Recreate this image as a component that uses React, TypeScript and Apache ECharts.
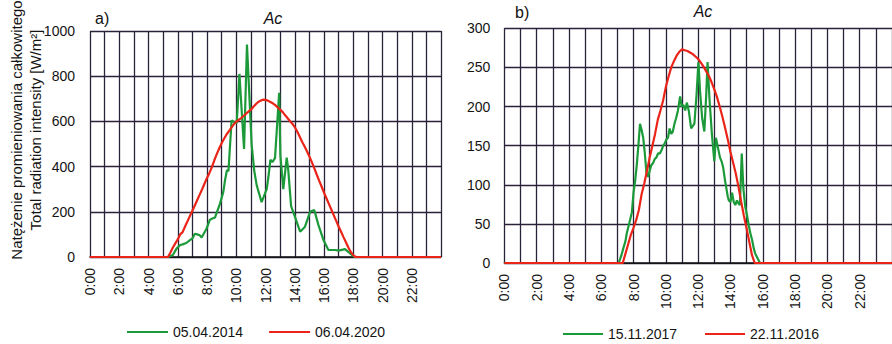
import React, { useEffect, useRef } from 'react';
import * as echarts from 'echarts';

// Panel a) Ac
const seriesA1Name = '05.04.2014';
const timesA1 = ['0:00','5:20','5:40','5:55','6:10','6:20','6:35','6:50','7:00','7:10','7:20','7:30','7:38','7:58','8:12','8:22','8:33','8:53','9:07','9:14','9:22','9:28','9:36','9:41','9:50','10:02','10:13','10:32','10:44','11:03','11:14','11:24','11:44','12:05','12:12','12:20','12:28','12:39','12:56','13:01','13:13','13:27','13:33','13:45','14:01','14:22','14:42','15:03','15:20','15:37','15:58','16:18','16:46','17:00','17:26','17:47','18:05','24:00'];
const valuesA1 = [0,0,9,37,53,56,62,75,82,103,100,96,86,125,165,170,175,235,288,340,385,380,520,605,598,592,810,478,940,500,380,317,243,300,355,430,420,437,727,450,300,440,390,225,178,112,134,200,208,142,75,31,31,28,35,16,0,0];

const seriesA2Name = '06.04.2020';
const timesA2 = ['0:00','5:20','5:30','5:40','5:50','6:00','6:10','6:20','6:30','6:40','6:50','7:00','7:10','7:20','7:30','7:40','7:50','8:00','8:10','8:20','8:30','8:40','8:50','9:00','9:10','9:20','9:30','9:40','9:50','10:00','10:10','10:20','10:30','10:40','10:50','11:00','11:10','11:20','11:30','11:40','11:50','12:00','12:10','12:20','12:30','12:40','12:50','13:00','13:10','13:20','13:30','13:40','13:50','14:00','14:10','14:20','14:30','14:40','14:50','15:00','15:10','15:20','15:30','15:40','15:50','16:00','16:10','16:20','16:30','16:40','16:50','17:00','17:10','17:20','17:30','17:40','17:50','18:00','18:10','24:00'];
const valuesA2 = [0,0,20,42,60,78,100,110,135,158,182,205,228,252,276,300,325,350,372,398,428,455,480,503,523,542,557,572,587,598,607,615,624,634,643,652,664,676,686,692,696,695,692,686,680,672,662,652,642,628,615,602,590,575,555,533,510,490,468,445,420,393,365,338,312,285,260,235,210,185,160,135,112,88,65,42,22,8,0,0];

// Panel b) Ac
const seriesB1Name = '15.11.2017';
const timesB1 = ['0:00','7:05','7:15','7:23','7:30','7:35','7:45','7:54','8:00','8:06','8:12','8:18','8:24','8:30','8:36','8:42','8:48','8:54','9:00','9:06','9:13','9:19','9:25','9:31','9:38','9:45','9:50','9:56','10:02','10:08','10:14','10:20','10:26','10:32','10:38','10:45','10:53','10:59','11:05','11:12','11:18','11:25','11:34','11:40','11:46','11:54','12:01','12:07','12:15','12:23','12:30','12:35','12:42','12:51','13:00','13:06','13:12','13:21','13:27','13:33','13:40','13:45','13:50','13:54','14:00','14:06','14:12','14:18','14:24','14:30','14:35','14:42','14:48','14:55','15:02','15:08','15:14','15:20','15:27','15:32','15:42','15:50','24:00'];
const valuesB1 = [0,0,10,20,28,38,52,65,90,105,125,150,178,170,160,140,115,110,118,125,128,133,135,140,140,145,150,153,158,160,172,165,168,178,185,195,213,200,202,195,205,195,172,175,178,215,257,220,185,168,215,257,210,165,130,160,150,135,130,122,105,95,85,80,78,90,78,74,80,76,74,140,95,72,60,48,38,30,18,12,5,0,0];

const seriesB2Name = '22.11.2016';
const timesB2 = ['0:00','7:20','7:30','7:40','7:50','8:00','8:10','8:20','8:30','8:40','8:50','9:00','9:10','9:20','9:30','9:40','9:50','10:00','10:10','10:20','10:30','10:40','10:50','11:00','11:10','11:20','11:30','11:40','11:50','12:00','12:10','12:20','12:30','12:40','12:50','13:00','13:10','13:20','13:30','13:40','13:50','14:00','14:10','14:20','14:30','14:40','14:50','15:00','15:10','15:20','15:30','24:00'];
const valuesB2 = [0,0,12,24,36,45,55,68,88,102,118,135,150,165,183,195,208,225,238,250,258,265,270,273,272,271,269,267,264,261,256,251,245,239,231,222,212,200,187,173,158,142,128,114,97,78,60,44,27,10,0,0];

const xTickLabels = ['0:00','2:00','4:00','6:00','8:00','10:00','12:00','14:00','16:00','18:00','20:00','22:00'];
const yTicksA = [0, 200, 400, 600, 800, 1000];
const yTicksB = [0, 50, 100, 150, 200, 250, 300];

const FONT = "'Liberation Sans', Arial, sans-serif";
const GREEN = '#1c9a3a';
const RED = '#ea2418';
const GRIDC = '#2a2238';
const TEXTC = '#141414';

const toHours = (t: string) => {
  const [h, m] = t.split(':').map(Number);
  return h + m / 60;
};
const zip = (ts: string[], vs: number[]) => ts.map((t, i) => [toHours(t), vs[i]]);

const xAxisFor = (gridIndex: number) => ({
  type: 'value',
  gridIndex,
  min: 0,
  max: 24,
  interval: 1,
  axisLine: { show: true, onZero: false, lineStyle: { color: '#111', width: 1.5 } },
  axisTick: { show: false },
  splitLine: { show: true, lineStyle: { color: GRIDC, width: 1.3 } },
  axisLabel: {
    rotate: 90,
    margin: 11,
    fontSize: 14,
    fontFamily: FONT,
    color: TEXTC,
    showMaxLabel: true,
    formatter: (v: number) => (v % 2 === 0 && v < 24 ? xTickLabels[v / 2] : ''),
  },
});

const yAxisFor = (gridIndex: number, ticks: number[], margin: number) => ({
  type: 'value',
  gridIndex,
  min: ticks[0],
  max: ticks[ticks.length - 1],
  interval: ticks[1] - ticks[0],
  axisLine: { show: false },
  axisTick: { show: false },
  splitLine: { show: true, lineStyle: { color: GRIDC, width: 1.3 } },
  axisLabel: {
    margin,
    fontSize: 14,
    fontFamily: FONT,
    color: TEXTC,
    formatter: (v: number) => String(v),
  },
});

const lineSeries = (name: string, data: number[][], color: string, idx: number) => ({
  name,
  type: 'line',
  xAxisIndex: idx,
  yAxisIndex: idx,
  data,
  showSymbol: false,
  symbol: 'none',
  lineStyle: { color, width: 2.2 },
  itemStyle: { color },
});

export default function App() {
  const ref = useRef<HTMLDivElement>(null);
  useEffect(() => {
    if (!ref.current) return;
    const chart = echarts.init(ref.current, undefined, { renderer: 'svg' });
    const titleStyle = { fontSize: 16, fontFamily: FONT, fill: '#111' };
    const legendText = { fontSize: 14, fontFamily: FONT, color: TEXTC };
    chart.setOption({
      animation: false,
      backgroundColor: '#ffffff',
      grid: [
        { left: 90, top: 31, width: 351, height: 226 },
        { left: 504.3, top: 28.3, width: 392.4, height: 234.7 },
      ],
      xAxis: [xAxisFor(0), xAxisFor(1)],
      yAxis: [yAxisFor(0, yTicksA, 15), yAxisFor(1, yTicksB, 14)],
      legend: [
        {
          data: [seriesA1Name, seriesA2Name],
          left: 122,
          top: 320,
          icon: 'rect',
          itemWidth: 41,
          itemHeight: 2.2,
          itemGap: 26,
          textStyle: legendText,
        },
        {
          data: [seriesB1Name, seriesB2Name],
          left: 558,
          top: 322,
          icon: 'rect',
          itemWidth: 40,
          itemHeight: 2.2,
          itemGap: 28,
          textStyle: legendText,
        },
      ],
      graphic: [
        { type: 'text', x: 95, y: 18, style: { ...titleStyle, text: 'a)', verticalAlign: 'middle' } },
        { type: 'text', x: 273, y: 18, style: { ...titleStyle, text: 'Ac', fontStyle: 'italic', align: 'center', verticalAlign: 'middle' } },
        { type: 'text', x: 515, y: 12, style: { ...titleStyle, text: 'b)', verticalAlign: 'middle' } },
        { type: 'text', x: 703, y: 11.5, style: { ...titleStyle, text: 'Ac', fontStyle: 'italic', align: 'center', verticalAlign: 'middle' } },
        {
          type: 'text',
          x: 26,
          y: 130,
          rotation: Math.PI / 2,
          style: {
            text: 'Natężenie promieniowania całkowitego\nTotal radiation intensity [W/m²]',
            fontSize: 15,
            lineHeight: 19,
            fontFamily: FONT,
            fill: TEXTC,
            align: 'center',
            verticalAlign: 'middle',
          },
        },
      ],
      series: [
        lineSeries(seriesA1Name, zip(timesA1, valuesA1), GREEN, 0),
        lineSeries(seriesA2Name, zip(timesA2, valuesA2), RED, 0),
        lineSeries(seriesB1Name, zip(timesB1, valuesB1), GREEN, 1),
        lineSeries(seriesB2Name, zip(timesB2, valuesB2), RED, 1),
      ],
    });
    return () => chart.dispose();
  }, []);
  return (
    <div
      ref={ref}
      style={{ position: 'absolute', left: 0, top: 0, width: 892, height: 344, background: '#fff' }}
    />
  );
}
